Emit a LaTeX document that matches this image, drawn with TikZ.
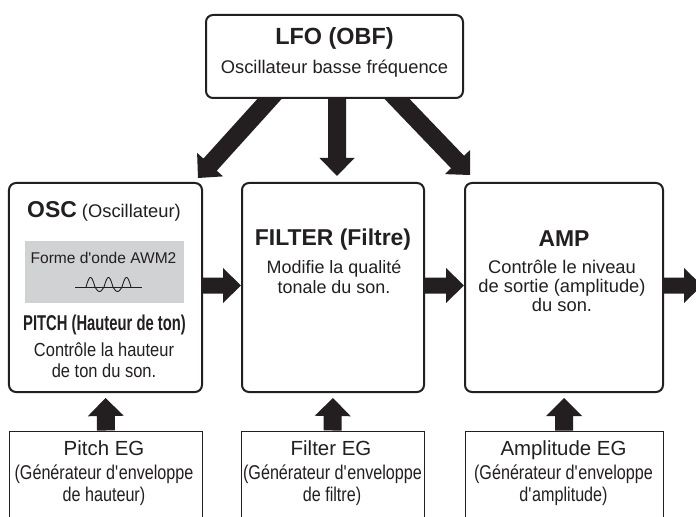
\documentclass[tikz,border=0pt]{standalone}
\usepackage{fontspec}
\setmainfont{Liberation Sans}
\newfontfamily\narrowsans[FakeStretch=0.87]{Liberation Sans}
\newfontfamily\pitchsans[FakeStretch=0.69]{Liberation Sans}
\newfontfamily\egsans[FakeStretch=0.81]{Liberation Sans}
\usetikzlibrary{calc}
\definecolor{ink}{HTML}{231F20}
\definecolor{wavegrey}{HTML}{D1D2D4}
\pgfdeclarelayer{bg}
\pgfsetlayers{bg,main}
\newcommand{\fsz}[1]{\fontsize{#1}{#1}\selectfont}
\newcommand{\ap}{\textquotesingle}
% filled block arrow: #1 start, #2 tip, #3 shaft half width, #4 head half width, #5 head length
\newcommand{\blockarrow}[5]{%
  \path ($(#2)!#5!(#1)$) coordinate (ba-c);
  \fill[ink] ($(#1)!#3!90:(#2)$) -- ($(ba-c)!#3!90:(#2)$) -- ($(ba-c)!#4!90:(#2)$)
    -- (#2) -- ($(ba-c)!#4!-90:(#2)$) -- ($(ba-c)!#3!-90:(#2)$) -- ($(#1)!#3!-90:(#2)$) -- cycle;
}
\begin{document}
\begin{tikzpicture}[x=1bp,y=-1bp,
  mainbox/.style={draw=ink,line width=2bp,rounded corners=7bp,fill=white,inner sep=0pt,minimum height=209bp},
  lfobox/.style={draw=ink,line width=2bp,rounded corners=7bp,fill=white,inner sep=0pt,minimum width=257bp,minimum height=83bp},
  egbox/.style={draw=ink,line width=1bp,fill=white,inner sep=0pt,minimum height=110bp},
  txt/.style={anchor=base,inner sep=0pt,text=ink}]
\useasboundingbox (0,0) rectangle (696,517);

% main blocks
\node[lfobox] (lfo) at (334.5,56.5) {};
\node[mainbox,minimum width=193bp] (osc) at (105.5,287.5) {};
\node[mainbox,minimum width=182bp] (filter) at (333,287.5) {};
\node[mainbox,minimum width=198bp] (amp) at (564,287.5) {};

% envelope generators (open at the bottom edge)
\node[egbox,minimum width=192bp] (pitcheg) at (106,486) {};
\node[egbox,minimum width=183bp] (filtereg) at (332.5,486) {};
\node[egbox,minimum width=198bp] (ampeg) at (564,486) {};

% LFO texts
\node[txt,font=\bfseries\fsz{23.5}] (lfot) at (334.5,45) {LFO (OBF)};
\node[txt,font=\fsz{18.4}] (lfod) at (334.5,74) {Oscillateur basse fréquence};

% OSC texts
\node[txt] (osct) at (104,218) {{\fsz{23}\bfseries OSC}{\fsz{18.4} (Oscillateur)}};
\node[fill=wavegrey,inner sep=0pt,minimum width=159bp,minimum height=62bp] (wave) at (104.5,272) {};
\node[txt,font=\fsz{15.6}] (wavet) at (103.5,264) {Forme d\ap onde AWM2};
\draw[ink,line width=0.9bp] (75,287) -- (142,287);
\draw[ink,line width=0.9bp,line join=round] plot[domain=0:900,samples=151]
  ({86+\x/20},{287-7*sin(\x)-2.5*abs(sin(\x))});
\node[txt,font=\pitchsans\bfseries\fsz{21.5}] (pitcht) at (104.5,330) {PITCH (Hauteur de ton)};
\node[txt,font=\narrowsans\fsz{19}] (pitchd1) at (104,356.5) {Contrôle la hauteur};
\node[txt,font=\narrowsans\fsz{19}] (pitchd2) at (104,377) {de ton du son.};

% FILTER texts
\node[txt,font=\bfseries\fsz{23}] (filtert) at (333,246) {FILTER (Filtre)};
\node[txt,font=\fsz{18}] (filterd1) at (334,274) {Modifie la qualité};
\node[txt,font=\fsz{18}] (filterd2) at (334,293.5) {tonale du son.};

% AMP texts
\node[txt,font=\bfseries\fsz{23}] (ampt) at (564,246.5) {AMP};
\node[txt,font=\fsz{18.4}] (ampd1) at (562,274) {Contrôle le niveau};
\node[txt,font=\fsz{18.4}] (ampd2) at (562,292.5) {de sortie (amplitude)};
\node[txt,font=\fsz{18.4}] (ampd3) at (562,311) {du son.};

% EG texts
\node[txt,font=\fsz{20.5}] (pegt) at (104,455) {Pitch EG};
\node[txt,font=\egsans\fsz{20}] (pegd1) at (104,479) {(Générateur d\ap enveloppe};
\node[txt,font=\egsans\fsz{20}] (pegd2) at (104,501) {de hauteur)};
\node[txt,font=\fsz{20.5}] (fegt) at (331,455) {Filter EG};
\node[txt,font=\egsans\fsz{20}] (fegd1) at (332.5,479) {(Générateur d\ap enveloppe};
\node[txt,font=\egsans\fsz{20}] (fegd2) at (332,501) {de filtre)};
\node[txt,font=\fsz{20.5}] (aegt) at (563.5,455) {Amplitude EG};
\node[txt,font=\egsans\fsz{20}] (aegd1) at (563.5,479) {(Générateur d\ap enveloppe};
\node[txt,font=\egsans\fsz{20}] (aegd2) at (563.5,501) {d\ap amplitude)};

% arrow end points
\coordinate (lfoL) at ([xshift=-56bp,yshift=10bp]lfo.south);
\coordinate (lfoM) at ([xshift=2.5bp,yshift=10bp]lfo.south);
\coordinate (lfoR) at ([xshift=53bp,yshift=10bp]lfo.south);
\coordinate (oscIn) at ([xshift=-5bp,yshift=4bp]osc.north east);
\coordinate (filterIn) at ([xshift=4bp,yshift=6bp]filter.north);
\coordinate (ampIn) at ([xshift=6bp,yshift=7bp]amp.north west);
\coordinate (oscOut) at ([yshift=2bp]osc.east);
\coordinate (filterL) at ([yshift=2bp]filter.west);
\coordinate (filterR) at ([yshift=2bp]filter.east);
\coordinate (ampL) at ([yshift=2bp]amp.west);
\coordinate (ampR) at ([yshift=2bp]amp.east);
\coordinate (ampOut) at ([xshift=38bp,yshift=2bp]amp.east);
\coordinate (oscB) at ([yshift=-5bp]osc.south);
\coordinate (filterB) at ([yshift=-5bp]filter.south);
\coordinate (ampB) at ([yshift=-5bp]amp.south);

\begin{pgfonlayer}{bg}
  \blockarrow{lfoL}{oscIn}{9bp}{17.5bp}{18bp}
  \blockarrow{lfoM}{filterIn}{9bp}{17.5bp}{18bp}
  \blockarrow{lfoR}{ampIn}{9bp}{17.5bp}{18bp}
  \blockarrow{oscOut}{filterL}{8bp}{17.5bp}{18bp}
  \blockarrow{filterR}{ampL}{8bp}{17.5bp}{18bp}
  \blockarrow{ampR}{ampOut}{8bp}{17.5bp}{18bp}
  \blockarrow{pitcheg.north}{oscB}{9bp}{18bp}{18bp}
  \blockarrow{filtereg.north}{filterB}{9bp}{18bp}{18bp}
  \blockarrow{ampeg.north}{ampB}{9bp}{18bp}{18bp}
\end{pgfonlayer}
\end{tikzpicture}
\end{document}
